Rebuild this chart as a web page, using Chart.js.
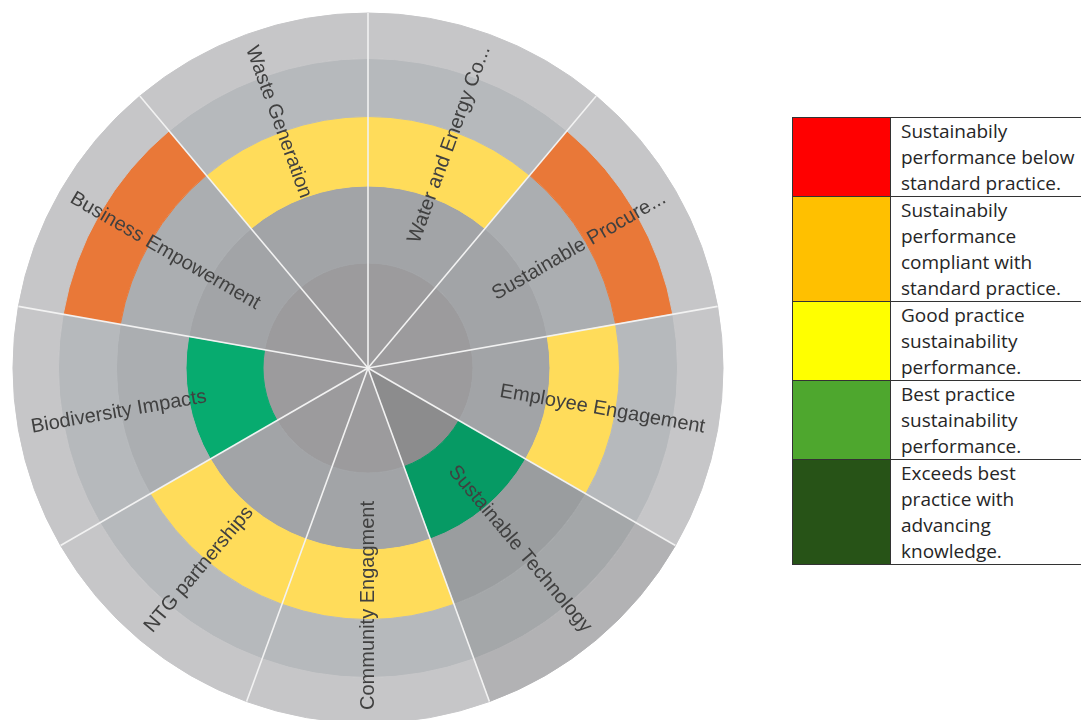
<!DOCTYPE html>
<html>
<head>
<meta charset="utf-8">
<script src="https://cdn.jsdelivr.net/npm/chart.js@4.4.1/dist/chart.umd.min.js"></script>
<style>
  html, body { margin: 0; padding: 0; background: #fff; overflow: hidden; }
  #wrap { position: absolute; left: 0; top: 0; width: 736px; height: 736px; }
  #key { position: absolute; left: 792px; top: 117px; width: 320px; table-layout: fixed;
         border-collapse: collapse; font-family: 'Open Sans', sans-serif; font-size: 19px; color: #262626; }
  #key td { border: 1px solid #333; padding: 0; }
  #key td.sw { width: 97px; }
  #key td.txt { padding: 0 0 0 10px; white-space: pre-line;
                line-height: 26px; vertical-align: top; }
</style>
</head>
<body>
<div id="wrap"><canvas id="wheel"></canvas></div>
<table id="key"></table>
<script>
// sectors, clockwise from the top
const categories = ['Water and Energy Co...', 'Sustainable Procure...', 'Employee Engagement',
  'Sustainable Technology', 'Community Engagment', 'NTG partnerships',
  'Biodiversity Impacts', 'Business Empowerment', 'Waste Generation'];
// ring that carries the rating for each sector (1 = centre disc, 5 = outer ring)
const levels = [3, 4, 3, 2, 3, 3, 2, 4, 3];
const selected = 'Sustainable Technology';

const ringGreys = ['#9c9b9d', '#a2a4a7', '#abaeb1', '#b6b9bc', '#c6c6c8'];
const levelColours = { 2: '#07ab6f', 3: '#ffdc5a', 4: '#e97838' };
const ringWeights = [105, 77, 69.5, 58, 45.5];

const legendColours = ['#ff0000', '#ffc000', '#ffff00', '#4ea72e', '#275317'];
const legendLabels = [
  'Sustainabily\nperformance below\nstandard practice.',
  'Sustainabily\nperformance\ncompliant with\nstandard practice.',
  'Good practice\nsustainability\nperformance.',
  'Best practice\nsustainability\nperformance.',
  'Exceeds best\npractice with\nadvancing\nknowledge.'
];

// legend table
const key = document.getElementById('key');
legendLabels.forEach((txt, i) => {
  const tr = document.createElement('tr');
  const sw = document.createElement('td');
  sw.className = 'sw';
  sw.style.background = legendColours[i];
  const td = document.createElement('td');
  td.className = 'txt';
  td.textContent = txt;
  tr.appendChild(sw);
  tr.appendChild(td);
  key.appendChild(tr);
});

function shade(hex, f) {
  const n = parseInt(hex.slice(1), 16);
  const r = Math.round(((n >> 16) & 255) * f);
  const g = Math.round(((n >> 8) & 255) * f);
  const b = Math.round((n & 255) * f);
  return 'rgb(' + r + ',' + g + ',' + b + ')';
}

function ringColours(ring) {
  return categories.map((c, i) => {
    let col = levels[i] === ring ? levelColours[ring] : ringGreys[ring - 1];
    return c === selected ? shade(col, 0.9) : shade(col, 1);
  });
}

// pie draws dataset 0 as the outer ring, so go from ring 5 down to 1
const datasets = [];
for (let ring = 5; ring >= 1; ring--) {
  const cols = ringColours(ring);
  datasets.push({
    label: 'ring ' + ring,
    data: categories.map(() => 1),
    weight: ringWeights[ring - 1],
    backgroundColor: cols,
    borderColor: cols,
    borderWidth: 1
  });
}

// white spokes between sectors
const spokes = {
  id: 'spokes',
  afterDatasetsDraw(chart) {
    const arcs = chart.getDatasetMeta(0).data;
    const ctx = chart.ctx;
    ctx.save();
    ctx.strokeStyle = '#f2f2f2';
    ctx.lineWidth = 1.6;
    arcs.forEach(a => {
      ctx.beginPath();
      ctx.moveTo(a.x, a.y);
      ctx.lineTo(a.x + Math.cos(a.startAngle) * a.outerRadius, a.y + Math.sin(a.startAngle) * a.outerRadius);
      ctx.stroke();
    });
    ctx.restore();
  }
};

// radial sector names, anchored near the outer edge
const sectorLabels = {
  id: 'sectorLabels',
  afterDatasetsDraw(chart) {
    const arcs = chart.getDatasetMeta(0).data;
    const ctx = chart.ctx;
    ctx.save();
    ctx.font = '20px "Liberation Sans", Arial, sans-serif';
    ctx.fillStyle = '#404040';
    ctx.textBaseline = 'middle';
    arcs.forEach((a, i) => {
      const mid = (a.startAngle + a.endAngle) / 2;
      const r = a.outerRadius - 13;
      const right = Math.cos(mid) > 0.001;
      ctx.save();
      ctx.translate(a.x + Math.cos(mid) * r, a.y + Math.sin(mid) * r);
      ctx.rotate(right ? mid : mid + Math.PI);
      ctx.textAlign = right ? 'right' : 'left';
      ctx.fillText(chart.data.labels[i], 0, 0);
      ctx.restore();
    });
    ctx.restore();
  }
};

new Chart(document.getElementById('wheel'), {
  type: 'pie',
  data: { labels: categories, datasets: datasets },
  options: {
    responsive: true,
    maintainAspectRatio: false,
    animation: false,
    events: [],
    layout: { padding: 12.5 },
    plugins: { legend: { display: false }, tooltip: { enabled: false } }
  },
  plugins: [spokes, sectorLabels]
});
</script>
</body>
</html>
